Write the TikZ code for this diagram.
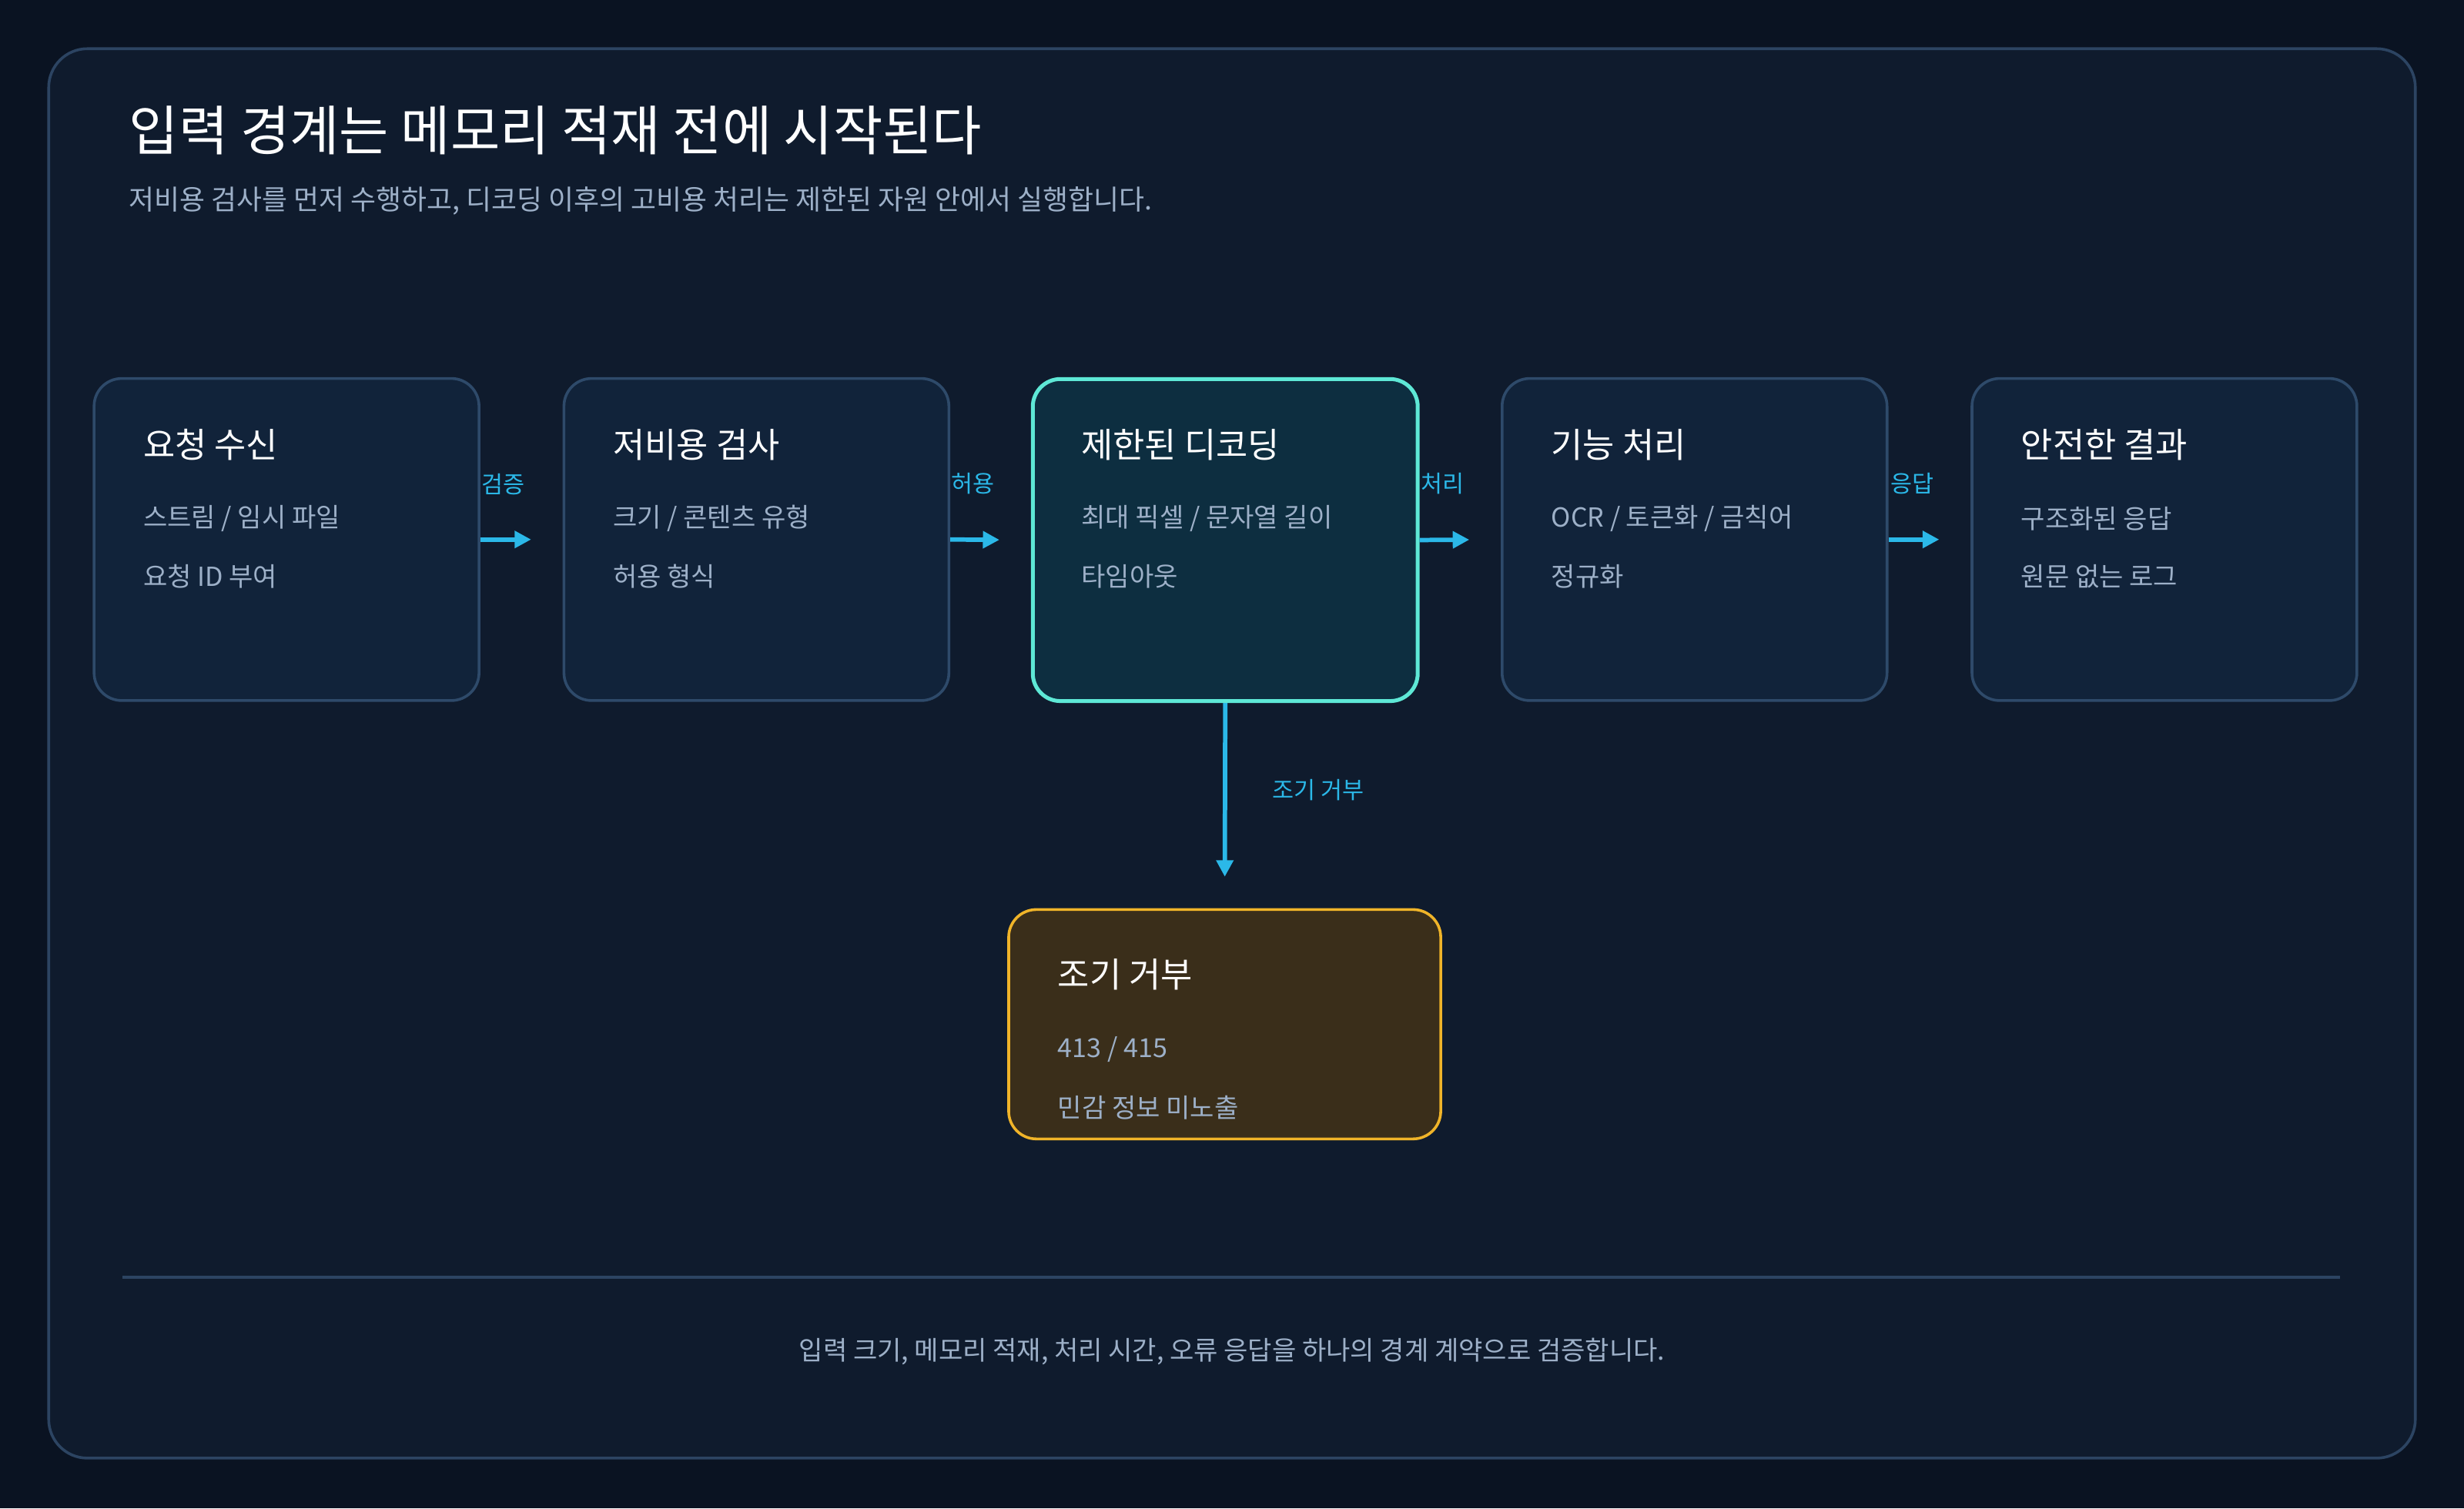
\documentclass[tikz,border=0pt]{standalone}
\usepackage{fontspec}
\setmainfont{Noto Sans CJK KR}
\usetikzlibrary{arrows.meta,positioning}
\definecolor{bgdark}{HTML}{0A1322}
\definecolor{panel}{HTML}{0F1B2D}
\definecolor{panelline}{HTML}{2C4462}
\definecolor{boxfill}{HTML}{11233A}
\definecolor{boxline}{HTML}{2E4A6A}
\definecolor{hotfill}{HTML}{0D2E40}
\definecolor{hotline}{HTML}{5EE8D6}
\definecolor{warnfill}{HTML}{3A2E1A}
\definecolor{warnline}{HTML}{F0B429}
\definecolor{flow}{HTML}{2BB8E8}
\definecolor{subtext}{HTML}{9DB0C8}
\begin{document}
\begin{tikzpicture}[x=0.02cm,y=-0.02cm,
    stage/.style={draw=boxline, fill=boxfill, line width=1pt, rounded corners=10pt, minimum width=4.9cm, minimum height=4.1cm, anchor=north west},
    title/.style={anchor=west, text=white, font=\fontsize{12.5}{14}\selectfont},
    detail/.style={anchor=west, text=subtext, font=\fontsize{9.5}{11}\selectfont},
    flowarrow/.style={-{Triangle[length=6pt,width=6pt]}, flow, line width=1.6pt},
    flowlabel/.style={text=flow, font=\fontsize{8.5}{10}\selectfont}
]
    % background and panel
    \fill[bgdark] (0,0) rectangle (1568,960);
    \useasboundingbox (0,0) rectangle (1568,960);
    \draw[panelline, fill=panel, line width=1pt, rounded corners=14pt] (31,31) rectangle (1537,928);

    \node[anchor=west, text=white, font=\fontsize{19.5}{22}\selectfont] (head) at (76,83) {입력 경계는 메모리 적재 전에 시작된다};
    \node[anchor=west, text=subtext, font=\fontsize{10}{12}\selectfont] (sub) at (76,128) {저비용 검사를 먼저 수행하고, 디코딩 이후의 고비용 처리는 제한된 자원 안에서 실행합니다.};

    % pipeline stages
    \node[stage] (recv) at (59,240) {};
    \node[stage] (cheap) at (358,240) {};
    \node[stage, draw=hotline, fill=hotfill, line width=1.4pt] (decode) at (656,240) {};
    \node[stage] (feat) at (955,240) {};
    \node[stage] (safe) at (1254,240) {};
    \node[stage, draw=warnline, fill=warnfill, minimum width=5.5cm, minimum height=2.92cm] (reject) at (641,578) {};

    \node[title] at (85,283) {요청 수신};
    \node[detail] at (85,330) {스트림 / 임시 파일};
    \node[detail] at (85,367) {요청 ID 부여};
    \node[title] at (384,283) {저비용 검사};
    \node[detail] at (384,330) {크기 / 콘텐츠 유형};
    \node[detail] at (384,367) {허용 형식};
    \node[title] at (682,283) {제한된 디코딩};
    \node[detail] at (682,330) {최대 픽셀 / 문자열 길이};
    \node[detail] at (682,367) {타임아웃};
    \node[title] at (981,283) {기능 처리};
    \node[detail] at (981,330) {OCR / 토큰화 / 금칙어};
    \node[detail] at (981,367) {정규화};
    \node[title] at (1280,283) {안전한 결과};
    \node[detail] at (1280,330) {구조화된 응답};
    \node[detail] at (1280,367) {원문 없는 로그};
    \node[title] at (667,620) {조기 거부};
    \node[detail] at (667,668) {413 / 415};
    \node[detail] at (667,705) {민감 정보 미노출};

    % connectors
    \draw[flowarrow, shorten >=0.4cm] (recv.east) -- (cheap.west);
    \draw[flowarrow, shorten >=0.4cm] (cheap.east) -- (decode.west);
    \draw[flowarrow, shorten >=0.4cm] (decode.east) -- (feat.west);
    \draw[flowarrow, shorten >=0.4cm] (feat.east) -- (safe.west);
    \draw[flowarrow, shorten >=0.4cm] (decode.south) -- (reject.north);
    \node[flowlabel] at (320,308) {검증};
    \node[flowlabel] at (619,308) {허용};
    \node[flowlabel] at (918,308) {처리};
    \node[flowlabel] at (1217,308) {응답};
    \node[flowlabel] at (839,503) {조기 거부};

    % footer
    \draw[panelline, line width=1pt] (78,813) -- (1489,813);
    \node[text=subtext, font=\fontsize{9.5}{11}\selectfont] (foot) at (784,860) {입력 크기, 메모리 적재, 처리 시간, 오류 응답을 하나의 경계 계약으로 검증합니다.};
\end{tikzpicture}
\end{document}
